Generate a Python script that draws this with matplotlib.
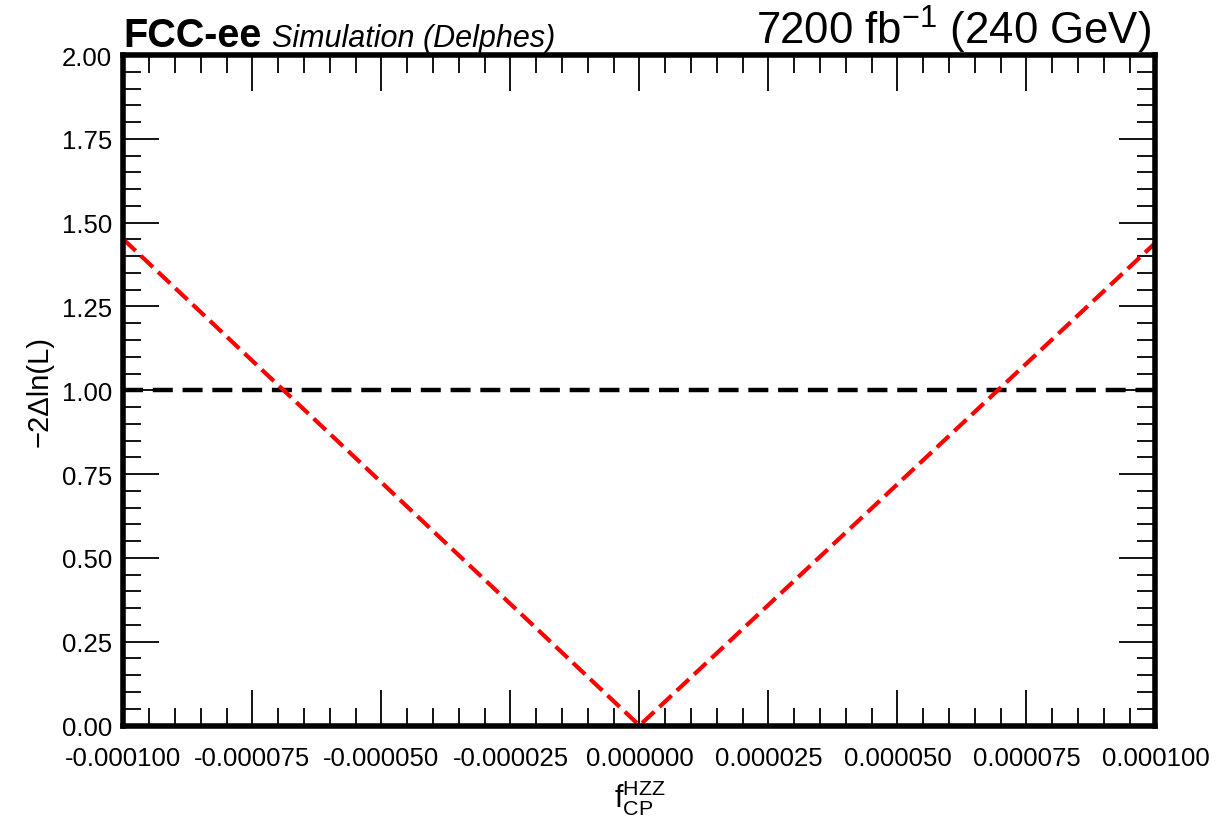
import matplotlib
matplotlib.use('Agg')
import matplotlib.pyplot as plt
from matplotlib.ticker import MultipleLocator, AutoMinorLocator, FuncFormatter

plt.rcParams['font.family'] = ['Liberation Sans', 'DejaVu Sans']
plt.rcParams['mathtext.fontset'] = 'custom'
plt.rcParams['mathtext.rm'] = 'Liberation Sans'
plt.rcParams['mathtext.it'] = 'Liberation Sans:italic'
plt.rcParams['mathtext.bf'] = 'Liberation Sans:bold'
plt.rcParams['axes.unicode_minus'] = False

# Scan da verossimilhanca
f_cp = [-0.0001, -0.00005, 0.0, 0.00005, 0.0001]
nll = [1.45, 0.725, 0.0, 0.72, 1.44]

# Linha de referencia em 1 sigma
ref_x = [-0.0001, 0.0001]
ref_y = [1.0, 1.0]

fig = plt.figure(figsize=(12.19, 8.20), dpi=100)
ax = fig.add_axes([0.1013, 0.114, 0.8466, 0.8177])

ax.plot(ref_x, ref_y, color='black', lw=3.2, linestyle=(0, (4.5, 2.2)))
ax.plot(f_cp, nll, color='#ff0000', lw=3, linestyle=(0, (4, 1.7)))

ax.set_xlim(-0.0001, 0.0001)
ax.set_ylim(0, 2)

# Eixos no estilo ROOT
for s in ax.spines.values():
    s.set_linewidth(4)
ax.xaxis.set_major_locator(MultipleLocator(0.000025))
ax.xaxis.set_minor_locator(AutoMinorLocator(5))
ax.yaxis.set_major_locator(MultipleLocator(0.25))
ax.yaxis.set_minor_locator(AutoMinorLocator(5))
ax.xaxis.set_major_formatter(FuncFormatter(lambda v, p: f'{v:.6f}' if abs(v) > 1e-12 else '0.000000'))
ax.yaxis.set_major_formatter(FuncFormatter(lambda v, p: f'{v:.2f}'))
ax.tick_params(which='both', direction='in', top=True, right=True, width=1.3, labelsize=18.5)
ax.tick_params(which='major', length=26)
ax.tick_params(which='minor', length=13)
ax.tick_params(axis='x', which='major', pad=15)
ax.tick_params(axis='y', which='major', pad=8)

ax.set_ylabel('\u22122\u0394ln(L)', fontsize=21)
ax.yaxis.set_label_coords(-0.068, 0.5)
fig.text(0.5246, 0.003, r'f$_{\mathrm{CP}}^{\mathrm{HZZ}}$', fontsize=22, ha='center', va='bottom')

fig.text(0.1013, 0.943, 'FCC-ee', fontsize=28.5, fontweight='bold', ha='left', va='baseline')
fig.text(0.223, 0.943, 'Simulation (Delphes)', fontsize=22, style='italic', ha='left', va='baseline')
fig.text(0.944, 0.945, r'7200 fb$^{-1}$ (240 GeV)', fontsize=31.5, ha='right', va='baseline')

fig.savefig('out.png', dpi=100)
